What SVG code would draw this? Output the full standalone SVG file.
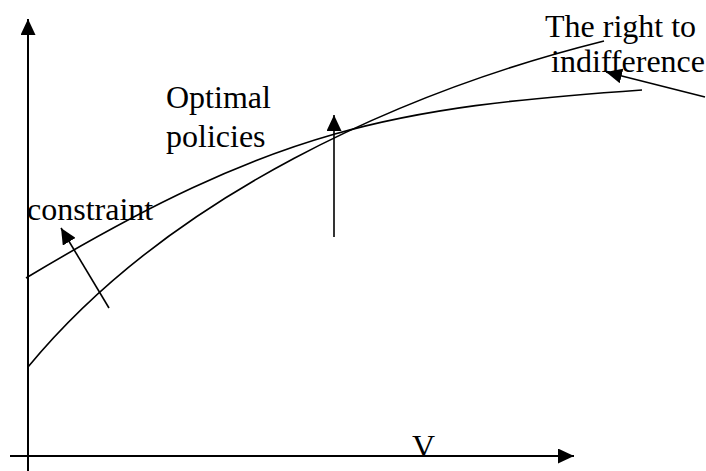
<svg xmlns="http://www.w3.org/2000/svg" width="706" height="471" viewBox="0 0 706 471">
<style>
.lbl{font-family:"Liberation Serif","Times New Roman",serif;font-size:32px;fill:#000}
.ax{stroke:#000;stroke-width:2;fill:none}
.ln{stroke:#000;stroke-width:1.6;fill:none}
</style>
<defs>
<marker id="ah" markerUnits="userSpaceOnUse" markerWidth="17" markerHeight="15" refX="16" refY="7.5" orient="auto">
<path d="M0,0 L16,7.5 L0,15 z" fill="#000"/>
</marker>
</defs>
<g id="connectors">
<line class="ax" x1="28" y1="471" x2="28" y2="19" marker-end="url(#ah)"/>
<line class="ax" x1="10" y1="456" x2="574" y2="456" marker-end="url(#ah)"/>
<path id="curve1" class="ln" d="M26,278 C276,128 392,107.5 642,90"/>
<path id="curve2" class="ln" d="M28,367 C170,195 404,91 604,41"/>
<line class="ln" x1="109" y1="308" x2="61" y2="228" marker-end="url(#ah)"/>
<line class="ln" x1="334" y1="237" x2="334" y2="115" marker-end="url(#ah)"/>
<line class="ln" x1="705" y1="97" x2="606" y2="72" marker-end="url(#ah)"/>
</g>
<g id="label-right">
<text class="lbl" x="545" y="37">The right to</text>
<text class="lbl" x="551" y="72">indifference</text>
</g>
<g id="label-optimal">
<text class="lbl" x="166" y="108">Optimal</text>
<text class="lbl" x="166" y="147">policies</text>
</g>
<g id="label-constraint">
<text class="lbl" x="27" y="220">constraint</text>
</g>
<g id="label-v">
<text class="lbl" x="412" y="457">V</text>
</g>
</svg>
